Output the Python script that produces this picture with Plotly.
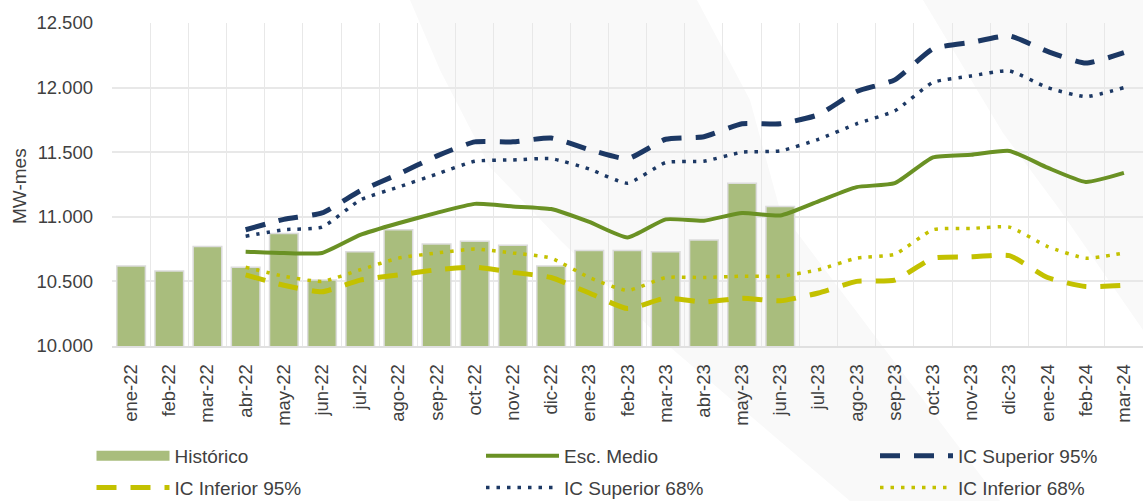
import plotly.graph_objects as go

months = ["ene-22","feb-22","mar-22","abr-22","may-22","jun-22","jul-22","ago-22","sep-22",
          "oct-22","nov-22","dic-22","ene-23","feb-23","mar-23","abr-23","may-23","jun-23",
          "jul-23","ago-23","sep-23","oct-23","nov-23","dic-23","ene-24","feb-24","mar-24"]

historico = [10620, 10580, 10770, 10610, 10870, 10510, 10730, 10900, 10790,
             10810, 10780, 10620, 10740, 10740, 10730, 10820, 11260, 11080]

proj_months = months[3:]
esc_medio = [10730, 10720, 10720, 10860, 10950, 11030, 11100, 11080, 11060, 10960, 10840, 10980,
             10970, 11030, 11010, 11120, 11230, 11260, 11460, 11480, 11510, 11380, 11270, 11340]
ic_sup_95 = [10900, 10980, 11030, 11200, 11330, 11470, 11580, 11580, 11610, 11520, 11450, 11600,
             11620, 11720, 11720, 11790, 11970, 12060, 12300, 12350, 12400, 12280, 12190, 12270]
ic_inf_95 = [10550, 10470, 10420, 10510, 10550, 10590, 10610, 10570, 10530, 10410, 10290, 10370,
             10340, 10370, 10350, 10410, 10500, 10510, 10680, 10690, 10700, 10530, 10460, 10470]
ic_sup_68 = [10850, 10900, 10920, 11130, 11230, 11330, 11430, 11440, 11450, 11370, 11260, 11420,
             11430, 11500, 11510, 11600, 11720, 11820, 12040, 12090, 12130, 12000, 11930, 12000]
ic_inf_68 = [10610, 10540, 10500, 10590, 10680, 10720, 10750, 10720, 10680, 10530, 10430, 10530,
             10530, 10540, 10540, 10590, 10680, 10710, 10900, 10910, 10920, 10770, 10680, 10720]

y_ticks = [10000, 10500, 11000, 11500, 12000, 12500]
y_title = "MW-mes"

FONT = "Liberation Sans, Arial, sans-serif"
TXT = "#404040"
GREEN_BAR = "#a9bd7d"
GREEN_LINE = "#6a9124"
NAVY = "#1c3864"
YELLOW = "#c3c100"
DASH95 = "20px,14px"
DOT68 = "3.5px,7px"

fig = go.Figure()
fig.add_trace(go.Bar(x=months[:len(historico)], y=historico, name="Histórico", showlegend=False,
                     marker=dict(color=GREEN_BAR, line=dict(color="#dcdcdc", width=1.5))))
# legend swatch for the bars (wide rectangle like the original)
fig.add_trace(go.Scatter(x=[None], y=[None], name="Histórico", mode="lines", legend="legend",
                         legendgroup="g1", line=dict(color=GREEN_BAR, width=13)))
fig.add_trace(go.Scatter(x=proj_months, y=esc_medio, name="Esc. Medio", mode="lines",
                         legend="legend2", legendgroup="g2",
                         line=dict(color=GREEN_LINE, width=4, shape="spline", smoothing=0.5)))
fig.add_trace(go.Scatter(x=proj_months, y=ic_sup_95, name="IC Superior 95%", mode="lines",
                         legend="legend3", legendgroup="g3",
                         line=dict(color=NAVY, width=5, dash=DASH95, shape="spline", smoothing=0.5)))
fig.add_trace(go.Scatter(x=proj_months, y=ic_inf_95, name="IC Inferior 95%", mode="lines",
                         legend="legend", legendgroup="g4",
                         line=dict(color=YELLOW, width=5, dash=DASH95, shape="spline", smoothing=0.5)))
fig.add_trace(go.Scatter(x=proj_months, y=ic_sup_68, name="IC Superior 68%", mode="lines",
                         legend="legend2", legendgroup="g5",
                         line=dict(color=NAVY, width=3.5, dash=DOT68, shape="spline", smoothing=0.5)))
fig.add_trace(go.Scatter(x=proj_months, y=ic_inf_68, name="IC Inferior 68%", mode="lines",
                         legend="legend3", legendgroup="g6",
                         line=dict(color=YELLOW, width=3.5, dash=DOT68, shape="spline", smoothing=0.5)))

W, H = 1143, 501
L, R, T, B = 112, 0, 23, 155
pw, ph = W - L - R, H - T - B

def px(x, y):
    return ((x - L) / pw, (H - B - y) / ph)

def path(points):
    pts = [px(x, y) for x, y in points]
    return "M " + " L ".join(f"{a:.4f},{b:.4f}" for a, b in pts) + " Z"

bandA = [(410, 0), (697, 0), (750, 100), (780, 210), (893, 360), (1000, 501),
         (850, 501), (670, 347), (560, 240), (490, 167), (440, 70)]
bandB = [(923, 0), (1143, 0), (1143, 330), (1060, 210), (1003, 133)]

shapes = [dict(type="path", xref="paper", yref="paper", path=path(b), layer="below",
               fillcolor="#f9f9f9", line=dict(width=0)) for b in (bandA, bandB)]

legend_common = dict(orientation="v", xref="container", yref="container", yanchor="top",
                     xanchor="left", y=0.128, font=dict(size=19, family=FONT, color=TXT),
                     bgcolor="rgba(0,0,0,0)", tracegroupgap=4, itemwidth=73)

tx, ty = px(19, 186)

fig.update_layout(
    width=W, height=H,
    margin=dict(l=L, r=R, t=T, b=B, autoexpand=False),
    paper_bgcolor="white", plot_bgcolor="rgba(0,0,0,0)",
    font=dict(family=FONT, color=TXT, size=18),
    separators=",.",
    bargap=0.25,
    shapes=shapes,
    showlegend=True,
    legend=dict(x=91.5 / W, **legend_common),
    legend2=dict(x=481 / W, **legend_common),
    legend3=dict(x=875 / W, **legend_common),
    annotations=[dict(text=y_title, xref="paper", yref="paper", x=tx, y=ty,
                      xanchor="center", yanchor="middle", textangle=-90, showarrow=False,
                      font=dict(size=19, family=FONT, color=TXT))],
    xaxis=dict(type="category", categoryorder="array", categoryarray=months,
               tickangle=-90, tickson="boundaries", showgrid=True, gridcolor="#e8e8e8", gridwidth=1,
               showline=True, linecolor="#e0e0e0", linewidth=1.5, ticks="", ticklabelstandoff=9,
               tickfont=dict(size=18.5, family=FONT, color=TXT), range=[-0.5, 26.5]),
    yaxis=dict(range=[10000, 12500], tickvals=y_ticks, tickformat=",.0f",
               showgrid=True, gridcolor="#e8e8e8", gridwidth=1.5, zeroline=False,
               showline=False, ticks="", ticklabelstandoff=18,
               tickfont=dict(size=18.5, family=FONT, color=TXT)),
)

fig.write_html("out.html", config={"displayModeBar": False},
               post_script="document.body.style.margin='0px';")
